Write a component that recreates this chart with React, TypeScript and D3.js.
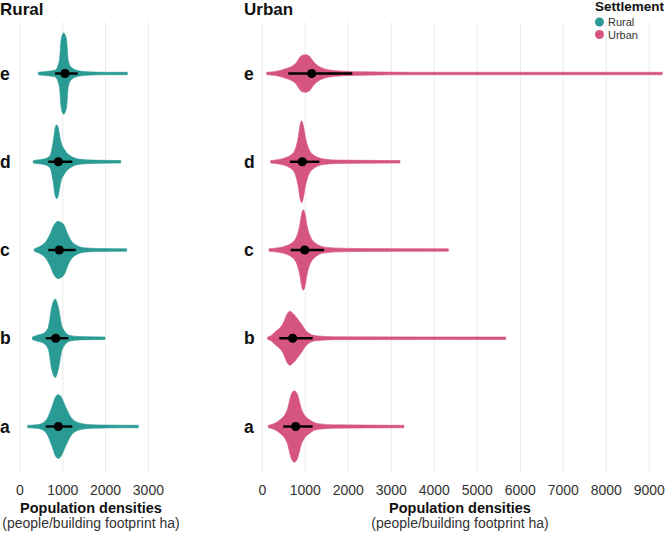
import React from "react";
import * as d3 from "d3";

// categories, top to bottom
const categories = ["e", "d", "c", "b", "a"];

// violin outlines: [population density, relative density]
const ruralA = [[180, 0.03], [400, 0.045], [550, 0.1], [638, 0.2], [740, 0.46], [840, 0.74], [895, 0.78], [950, 0.74], [1075, 0.46], [1208, 0.2], [1400, 0.08], [1650, 0.045], [2000, 0.035], [2764, 0.03]];
const ruralB = [[288, 0.03], [390, 0.07], [550, 0.12], [661, 0.27], [740, 0.76], [790, 0.92], [818, 0.96], [850, 0.92], [895, 0.76], [988, 0.27], [1168, 0.07], [1400, 0.04], [1986, 0.03]];
const ruralC = [[334, 0.03], [450, 0.08], [600, 0.2], [700, 0.38], [794, 0.61], [850, 0.68], [895, 0.7], [940, 0.68], [1028, 0.61], [1110, 0.4], [1200, 0.22], [1350, 0.1], [1500, 0.055], [1800, 0.038], [2493, 0.03]];
const ruralD = [[311, 0.03], [450, 0.05], [600, 0.08], [700, 0.15], [778, 0.51], [820, 0.82], [857, 0.9], [890, 0.84], [950, 0.51], [1050, 0.28], [1168, 0.15], [1400, 0.06], [1700, 0.04], [2353, 0.03]];
const ruralE = [[428, 0.03], [600, 0.05], [818, 0.08], [920, 0.32], [958, 0.8], [990, 0.95], [1020, 0.99], [1060, 0.93], [1091, 0.8], [1128, 0.32], [1200, 0.15], [1355, 0.07], [1600, 0.04], [2000, 0.03], [2507, 0.03]];

const urbanA = [[140, 0.03], [250, 0.06], [395, 0.15], [581, 0.41], [680, 0.8], [744, 0.87], [810, 0.8], [916, 0.41], [1119, 0.15], [1300, 0.07], [1700, 0.04], [3295, 0.03]];
const urbanB = [[125, 0.03], [200, 0.06], [295, 0.15], [488, 0.37], [580, 0.6], [644, 0.66], [720, 0.6], [893, 0.37], [1046, 0.15], [1250, 0.06], [1700, 0.035], [5660, 0.03]];
const urbanC = [[156, 0.03], [300, 0.045], [450, 0.07], [720, 0.2], [870, 0.6], [920, 0.9], [953, 0.98], [990, 0.9], [1040, 0.6], [1200, 0.2], [1450, 0.07], [1800, 0.045], [2300, 0.035], [4326, 0.03]];
const urbanD = [[195, 0.03], [320, 0.045], [451, 0.07], [707, 0.2], [837, 0.61], [880, 0.9], [916, 1.0], [950, 0.9], [1000, 0.61], [1149, 0.2], [1419, 0.07], [1800, 0.04], [3202, 0.03]];
const urbanE = [[102, 0.03], [300, 0.05], [488, 0.1], [770, 0.24], [916, 0.44], [1009, 0.46], [1070, 0.44], [1235, 0.24], [1496, 0.1], [1900, 0.055], [2400, 0.04], [3500, 0.03], [9300, 0.03]];

// summary: mean and range, in order e, d, c, b, a
const ruralMean = [1051, 895, 918, 834, 895];
const ruralLow = [818, 661, 661, 600, 600];
const ruralHigh = [1348, 1222, 1301, 1129, 1222];
const urbanMean = [1149, 930, 986, 707, 777];
const urbanLow = [605, 644, 660, 395, 488];
const urbanHigh = [2093, 1326, 1435, 1172, 1172];

const ruralTicks = [0, 1000, 2000, 3000];
const urbanTicks = [0, 1000, 2000, 3000, 4000, 5000, 6000, 7000, 8000, 9000];

const ruralColor = "#2a9a94";
const urbanColor = "#d5557f";
const font = "'Liberation Sans', Arial, Helvetica, sans-serif";

const y = d3.scalePoint<string>().domain(categories).range([73.5, 426.5]);
const w = d3.scaleLinear().domain([0, 1]).range([0, 41]);
const panelTop = 22;
const panelBottom = 472;

function Panel(props: any) {
  const { x, ticks, profiles, mean, low, high, color, title, titleX, labelX, axisCenter } = props;
  return (
    <g>
      <text x={titleX} y={15} fontSize={17} fontWeight="bold" fill="#111">{title}</text>
      {ticks.map((t: number) => (
        <g key={t}>
          <line x1={x(t)} x2={x(t)} y1={panelTop} y2={panelBottom} stroke="#ebebeb" strokeWidth={1} />
          <text x={x(t)} y={495} textAnchor="middle" fontSize={14} fill="#333">{t}</text>
        </g>
      ))}
      {categories.map((c, i) => {
        const cy = y(c) as number;
        const area = d3.area<number[]>()
          .x(d => x(d[0]))
          .y0(d => cy - w(d[1]))
          .y1(d => cy + w(d[1]))
          .curve(d3.curveMonotoneX);
        return (
          <g key={c}>
            <text x={labelX} y={cy + 6} fontSize={17.5} fontWeight="bold" fill="#111">{c}</text>
            <path d={area(profiles[i]) || ""} fill={color} stroke={color} strokeWidth={0.6} />
            <line x1={x(low[i])} x2={x(high[i])} y1={cy} y2={cy} stroke="#000" strokeWidth={2.4} />
            <circle cx={x(mean[i])} cy={cy} r={4.6} fill="#000" />
          </g>
        );
      })}
      <text x={axisCenter} y={513} textAnchor="middle" fontSize={14.5} fontWeight="bold" fill="#111">Population densities</text>
      <text x={axisCenter} y={528} textAnchor="middle" fontSize={14} fill="#333">(people/building footprint ha)</text>
    </g>
  );
}

export default function App() {
  const xRural = d3.scaleLinear().domain([0, 3000]).range([20, 148.4]);
  const xUrban = d3.scaleLinear().domain([0, 9000]).range([262.3, 649.3]);
  return (
    <svg width={666} height={536} style={{ position: "absolute", left: 0, top: 0, fontFamily: font }}>
      <rect width={666} height={536} fill="#fff" />
      <Panel x={xRural} ticks={ruralTicks} profiles={[ruralE, ruralD, ruralC, ruralB, ruralA]}
        mean={ruralMean} low={ruralLow} high={ruralHigh} color={ruralColor}
        title="Rural" titleX={0} labelX={0} axisCenter={91} />
      <Panel x={xUrban} ticks={urbanTicks} profiles={[urbanE, urbanD, urbanC, urbanB, urbanA]}
        mean={urbanMean} low={urbanLow} high={urbanHigh} color={urbanColor}
        title="Urban" titleX={244} labelX={244} axisCenter={460} />
      <g>
        <text x={595} y={11} fontSize={13.5} fontWeight="bold" fill="#111">Settlement</text>
        <circle cx={599.5} cy={22} r={4.5} fill={ruralColor} />
        <text x={608} y={26} fontSize={11} fill="#333">Rural</text>
        <circle cx={599.5} cy={34.5} r={4.5} fill={urbanColor} />
        <text x={608} y={38.5} fontSize={11} fill="#333">Urban</text>
      </g>
    </svg>
  );
}
